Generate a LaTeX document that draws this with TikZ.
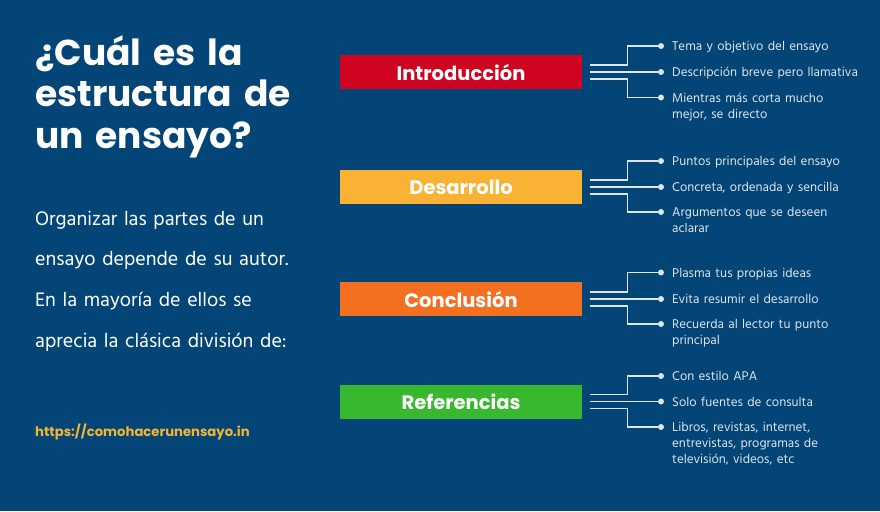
\documentclass[tikz,border=0pt]{standalone}
\usepackage{fontspec}
\setmainfont{Hind Siliguri}
\newfontfamily\headfont{Poppins}
\usetikzlibrary{positioning}

\definecolor{bgblue}{RGB}{2,69,118}
\definecolor{introred}{RGB}{206,4,32}
\definecolor{desayellow}{RGB}{249,178,51}
\definecolor{concorange}{RGB}{243,112,33}
\definecolor{refegreen}{RGB}{56,184,46}
\definecolor{urlyellow}{RGB}{242,182,50}
\definecolor{linegray}{RGB}{222,228,236}

\begin{document}
\begin{tikzpicture}[x=1pt,y=-1pt,
  part/.style={minimum width=242pt, minimum height=34pt, inner sep=0pt,
    text=white, font=\headfont\bfseries\fontsize{19.5}{19.5}\selectfont},
  dot/.style={circle, fill=linegray, inner sep=0pt, minimum size=6pt},
  branch/.style={draw=linegray, line width=1.4pt},
  item/.style={anchor=base west, inner sep=0pt, text width=200pt, align=left,
    text=linegray, font=\fontsize{13}{16}\selectfont}]

\fill[bgblue] (0,0) rectangle (880,511);
\useasboundingbox (0,0) rectangle (880,511);

% title and text on the left
\node[anchor=base west, inner sep=0pt, text width=290pt, align=left, text=white,
  font=\headfont\bfseries\fontsize{36}{41.5}\selectfont] (title) at (35,65)
  {¿Cuál es la\\estructura de\\un ensayo?};
\node[anchor=base west, inner sep=0pt, text width=290pt, align=left, text=white,
  font=\fontsize{20}{40.7}\selectfont] (intro text) at (35,225)
  {Organizar las partes de un\\ensayo depende de su autor.\\En la mayoría de ellos se\\aprecia la clásica división de:};
\node[anchor=base west, inner sep=0pt, text=urlyellow,
  font=\headfont\bfseries\fontsize{13.2}{13.2}\selectfont] (url) at (35,436)
  {https://comohacerunensayo.in};

% parts
\node[part, fill=introred] (intro) at (461,72) {Introducción};
\node[part, fill=desayellow] (desa) at (461,187) {Desarrollo};
\node[part, fill=concorange] (conc) at (461,299) {Conclusión};
\node[part, fill=refegreen] (refe) at (461,401.5) {Referencias};

% Introducción
\node[dot] (i1) at (661,46) {};
\node[dot] (i2) at (661,72) {};
\node[dot] (i3) at (661,97.5) {};
\draw[branch] ([xshift=8pt,yshift=7pt]intro.east) -- ++(37,0) |- (i1);
\draw[branch] ([xshift=8pt]intro.east) -- (i2);
\draw[branch] ([xshift=8pt,yshift=-7pt]intro.east) -- ++(37,0) |- (i3);
\node[item] (i1 text) at ([xshift=11pt,yshift=-4.5pt]i1.center) {Tema y objetivo del ensayo};
\node[item] (i2 text) at ([xshift=11pt,yshift=-4.5pt]i2.center) {Descripción breve pero llamativa};
\node[item] (i3 text) at ([xshift=11pt,yshift=-4.5pt]i3.center) {Mientras más corta mucho\\mejor, se directo};

% Desarrollo
\node[dot] (d1) at (661,161) {};
\node[dot] (d2) at (661,187) {};
\node[dot] (d3) at (661,212) {};
\draw[branch] ([xshift=8pt,yshift=7pt]desa.east) -- ++(37,0) |- (d1);
\draw[branch] ([xshift=8pt]desa.east) -- (d2);
\draw[branch] ([xshift=8pt,yshift=-7pt]desa.east) -- ++(37,0) |- (d3);
\node[item] (d1 text) at ([xshift=11pt,yshift=-4.5pt]d1.center) {Puntos principales del ensayo};
\node[item] (d2 text) at ([xshift=11pt,yshift=-4.5pt]d2.center) {Concreta, ordenada y sencilla};
\node[item] (d3 text) at ([xshift=11pt,yshift=-4.5pt]d3.center) {Argumentos que se deseen\\aclarar};

% Conclusión
\node[dot] (c1) at (661,272.5) {};
\node[dot] (c2) at (661,299) {};
\node[dot] (c3) at (661,324) {};
\draw[branch] ([xshift=8pt,yshift=7pt]conc.east) -- ++(37,0) |- (c1);
\draw[branch] ([xshift=8pt]conc.east) -- (c2);
\draw[branch] ([xshift=8pt,yshift=-7pt]conc.east) -- ++(37,0) |- (c3);
\node[item] (c1 text) at ([xshift=11pt,yshift=-4.5pt]c1.center) {Plasma tus propias ideas};
\node[item] (c2 text) at ([xshift=11pt,yshift=-4.5pt]c2.center) {Evita resumir el desarrollo};
\node[item] (c3 text) at ([xshift=11pt,yshift=-4.5pt]c3.center) {Recuerda al lector tu punto\\principal};

% Referencias
\node[dot] (r1) at (661,376) {};
\node[dot] (r2) at (661,401.5) {};
\node[dot] (r3) at (661,427) {};
\draw[branch] ([xshift=8pt,yshift=7pt]refe.east) -- ++(37,0) |- (r1);
\draw[branch] ([xshift=8pt]refe.east) -- (r2);
\draw[branch] ([xshift=8pt,yshift=-7pt]refe.east) -- ++(37,0) |- (r3);
\node[item] (r1 text) at ([xshift=11pt,yshift=-4.5pt]r1.center) {Con estilo APA};
\node[item] (r2 text) at ([xshift=11pt,yshift=-4.5pt]r2.center) {Solo fuentes de consulta};
\node[item] (r3 text) at ([xshift=11pt,yshift=-4.5pt]r3.center) {Libros, revistas, internet,\\entrevistas, programas de\\televisión, videos, etc};

\end{tikzpicture}
\end{document}
